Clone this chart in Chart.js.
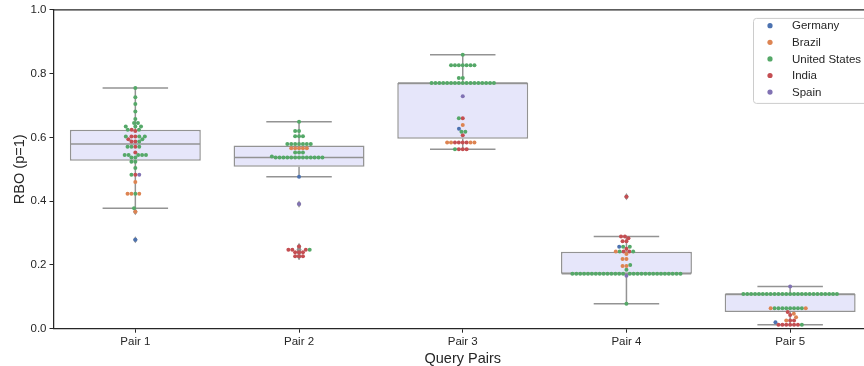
<!DOCTYPE html>
<html>
<head>
<meta charset="utf-8">
<script src="https://cdn.jsdelivr.net/npm/chart.js@4/dist/chart.umd.min.js"></script>
<style>
  html, body { margin: 0; padding: 0; background: #ffffff; overflow: hidden; }
  #wrap { width: 874px; height: 366px; }
</style>
</head>
<body>
<div id="wrap"><canvas id="c" width="874" height="366"></canvas></div>
<script>
// Query pairs on the x axis
const pairLabels = ['Pair 1', 'Pair 2', 'Pair 3', 'Pair 4', 'Pair 5'];

// Countries (legend order) and their colours
const countries = ['Germany', 'Brazil', 'United States', 'India', 'Spain'];
const countryColors = ['#4c72b0', '#dd8452', '#55a868', '#c44e52', '#8172b3'];

// RBO (p=1) scores, one list per query pair, for each country
const germany = [[0.279], [0.477], [0.627], [0.257], [0.020]];
const spain = [[0.483], [0.391], [0.729], [0.166], [0.132]];
const brazil = [
  [0.460, 0.423, 0.423, 0.423, 0.367],
  [0.566, 0.566, 0.566, 0.566, 0.566],
  [0.639, 0.584, 0.584, 0.584, 0.584],
  [0.242, 0.234, 0.219, 0.219, 0.197, 0.197],
  [0.064, 0.064, 0.047, 0.036, 0.026]
];
const india = [
  [0.624, 0.620, 0.603, 0.603, 0.594, 0.587, 0.587, 0.571, 0.553, 0.483],
  [0.258, 0.248, 0.248, 0.248, 0.240, 0.240, 0.240, 0.227, 0.227, 0.227],
  [0.660, 0.607, 0.584, 0.584, 0.584, 0.584, 0.563, 0.563, 0.563],
  [0.414, 0.289, 0.289, 0.284, 0.274, 0.274, 0.251, 0.242, 0.242],
  [0.052, 0.043, 0.026, 0.026, 0.0125, 0.0125, 0.0125, 0.0125, 0.0125, 0.0125]
];
const unitedStates = [
  [0.755, 0.726, 0.705, 0.681, 0.658, 0.645, 0.645, 0.634, 0.634, 0.634,
   0.624, 0.624, 0.603, 0.603, 0.603, 0.594, 0.587, 0.571, 0.571, 0.571,
   0.545, 0.545, 0.545, 0.545, 0.545, 0.537, 0.537, 0.524, 0.524, 0.504,
   0.483, 0.423, 0.378],
  [0.649, 0.620, 0.620, 0.604, 0.604, 0.604, 0.579, 0.579, 0.579, 0.579,
   0.579, 0.579, 0.579, 0.553, 0.553, 0.553, 0.540, 0.537, 0.537, 0.537,
   0.537, 0.537, 0.537, 0.537, 0.537, 0.537, 0.537, 0.537, 0.537, 0.537,
   0.248],
  [0.859, 0.826, 0.826, 0.826, 0.826, 0.826, 0.826, 0.826, 0.786, 0.786,
   0.771, 0.771, 0.771, 0.771, 0.771, 0.771, 0.771, 0.771, 0.771, 0.771,
   0.771, 0.771, 0.771, 0.771, 0.771, 0.771, 0.771, 0.660, 0.618, 0.618,
   0.563],
  [0.257, 0.257, 0.242, 0.242, 0.200, 0.185, 0.172, 0.172, 0.172, 0.172,
   0.172, 0.172, 0.172, 0.172, 0.172, 0.172, 0.172, 0.172, 0.172, 0.172,
   0.172, 0.172, 0.172, 0.172, 0.172, 0.172, 0.172, 0.172, 0.172, 0.172,
   0.172, 0.172, 0.172, 0.172, 0.078],
  [0.109, 0.109, 0.109, 0.109, 0.109, 0.109, 0.109, 0.109, 0.109, 0.109,
   0.109, 0.109, 0.109, 0.109, 0.109, 0.109, 0.109, 0.109, 0.109, 0.109,
   0.109, 0.109, 0.109, 0.109, 0.109, 0.064, 0.064, 0.064, 0.064, 0.064,
   0.064, 0.064, 0.064, 0.0125]
];
const seriesByCountry = [germany, brazil, unitedStates, india, spain];

// Box statistics per pair
const boxQ1 = [0.527, 0.508, 0.596, 0.172, 0.052];
const boxMedian = [0.579, 0.537, 0.771, 0.172, 0.109];
const boxQ3 = [0.624, 0.575, 0.771, 0.241, 0.109];
const whiskerLow = [0.378, 0.477, 0.563, 0.078, 0.0125];
const whiskerHigh = [0.755, 0.649, 0.859, 0.289, 0.132];

// Y axis ticks
const yTicks = [0.0, 0.2, 0.4, 0.6, 0.8, 1.0];

const FONT = '"Liberation Sans", Arial, Helvetica, sans-serif';
const INK = '#262626';
const BOX_FILL = '#e6e6fa';
const BOX_LINE = '#939393';
const BOX_WIDTH = 0.8;          // in category units
const POINT_R = 2.0;            // drawn radius, px
const SWARM_R = 1.86;           // collision radius used for the swarm layout, px

Chart.defaults.font.family = FONT;
Chart.defaults.color = INK;

// Median, whiskers, caps and fliers on top of each box
const boxDetails = {
  id: 'boxDetails',
  afterDatasetDraw(chart, args) {
    if (args.index !== 0) return;
    const { ctx } = chart;
    const xs = chart.scales.xs, y = chart.scales.y;
    ctx.save();
    ctx.strokeStyle = BOX_LINE;
    ctx.fillStyle = BOX_LINE;
    ctx.lineWidth = 1.5;
    ctx.lineCap = 'butt';
    pairLabels.forEach((_, i) => {
      const cx = xs.getPixelForValue(i);
      const half = xs.getPixelForValue(i + BOX_WIDTH / 2) - cx;
      const cap = half / 2;
      const seg = (x1, y1, x2, y2) => { ctx.beginPath(); ctx.moveTo(x1, y1); ctx.lineTo(x2, y2); ctx.stroke(); };
      // whiskers
      seg(cx, y.getPixelForValue(boxQ3[i]), cx, y.getPixelForValue(whiskerHigh[i]));
      seg(cx, y.getPixelForValue(boxQ1[i]), cx, y.getPixelForValue(whiskerLow[i]));
      // caps
      seg(cx - cap, y.getPixelForValue(whiskerHigh[i]), cx + cap, y.getPixelForValue(whiskerHigh[i]));
      seg(cx - cap, y.getPixelForValue(whiskerLow[i]), cx + cap, y.getPixelForValue(whiskerLow[i]));
      // median
      seg(cx - half + 0.75, y.getPixelForValue(boxMedian[i]), cx + half - 0.75, y.getPixelForValue(boxMedian[i]));
      // fliers: thin diamonds for values beyond the whiskers
      seriesByCountry.forEach(series => series[i].forEach(v => {
        if (v < whiskerLow[i] - 1e-9 || v > whiskerHigh[i] + 1e-9) {
          const py = y.getPixelForValue(v);
          ctx.beginPath();
          ctx.moveTo(cx, py - 3.6);
          ctx.lineTo(cx + 2.3, py);
          ctx.lineTo(cx, py + 3.6);
          ctx.lineTo(cx - 2.3, py);
          ctx.closePath();
          ctx.fill();
        }
      }));
    });
    ctx.restore();
  }
};

// Top spine of the axes frame
const topSpine = {
  id: 'topSpine',
  afterDraw(chart) {
    const { ctx, chartArea: a } = chart;
    ctx.save();
    ctx.strokeStyle = INK;
    ctx.lineWidth = 1.25;
    ctx.beginPath();
    ctx.moveTo(a.left - 0.6, a.top);
    ctx.lineTo(a.right, a.top);
    ctx.stroke();
    ctx.restore();
  }
};

// Legend box in the upper right corner of the axes
const countryLegend = {
  id: 'countryLegend',
  afterDraw(chart) {
    const { ctx, chartArea: a } = chart;
    const right = a.right - 5, width = 114, left = right - width;
    const top = a.top + 8, height = 85;
    ctx.save();
    ctx.beginPath();
    ctx.roundRect(left + 0.5, top + 0.5, width, height, 3);
    ctx.fillStyle = 'rgba(255,255,255,0.8)';
    ctx.fill();
    ctx.strokeStyle = '#cccccc';
    ctx.lineWidth = 1;
    ctx.stroke();
    ctx.font = '11.5px ' + FONT;
    ctx.textBaseline = 'middle';
    ctx.textAlign = 'left';
    countries.forEach((name, i) => {
      const yy = top + 7.8 + i * 16.6;
      ctx.beginPath();
      ctx.arc(left + 17, yy, 2.6, 0, Math.PI * 2);
      ctx.fillStyle = countryColors[i];
      ctx.fill();
      ctx.fillStyle = INK;
      ctx.fillText(name, left + 39, yy + 0.5);
    });
    ctx.restore();
  }
};

const ctx = document.getElementById('c').getContext('2d');
const chart = new Chart(ctx, {
  type: 'scatter',
  data: {
    labels: pairLabels,
    datasets: [
      {
        type: 'bar',
        label: 'box',
        data: boxQ1.map((q, i) => [q, boxQ3[i]]),
        xAxisID: 'x',
        yAxisID: 'y',
        backgroundColor: BOX_FILL,
        borderColor: BOX_LINE,
        borderWidth: 1.5,
        borderSkipped: false,
        grouped: false,
        categoryPercentage: 1.0,
        barPercentage: BOX_WIDTH,
        order: 2
      },
      ...countries.map((name, i) => ({
        type: 'scatter',
        label: name,
        data: [],
        xAxisID: 'xs',
        yAxisID: 'y',
        backgroundColor: countryColors[i],
        borderWidth: 0,
        pointRadius: POINT_R,
        pointHoverRadius: POINT_R,
        order: 0
      }))
    ]
  },
  options: {
    responsive: false,
    animation: false,
    devicePixelRatio: 1,
    layout: { padding: { left: 13, right: 1, top: 3, bottom: 0 } },
    scales: {
      x: {
        type: 'category',
        labels: pairLabels,
        offset: true,
        grid: { display: true, drawOnChartArea: false, offset: false, tickLength: 4, color: INK, lineWidth: 1 },
        border: { display: true, color: INK, width: 1.25 },
        ticks: { color: INK, font: { size: 11.5 }, padding: 2, maxRotation: 0 },
        title: { display: true, text: 'Query Pairs', color: INK, font: { size: 14.5, lineHeight: 1.0 }, padding: { top: 1, bottom: 0 } }
      },
      xs: { type: 'linear', min: -0.5, max: 4.5, display: false },
      y: {
        type: 'linear',
        min: 0,
        max: 1,
        afterBuildTicks(scale) { scale.ticks = yTicks.map(v => ({ value: v })); },
        grid: { display: true, drawOnChartArea: false, tickLength: 4, color: INK, lineWidth: 1 },
        border: { display: true, color: INK, width: 1.25 },
        ticks: { color: INK, font: { size: 11.5 }, padding: 3, callback: v => Number(v).toFixed(1) },
        title: { display: true, text: 'RBO (p=1)', color: INK, font: { size: 14.5, lineHeight: 1.0 }, padding: { top: 0, bottom: 0 } }
      }
    },
    plugins: {
      legend: { display: false },
      tooltip: { enabled: false }
    }
  },
  plugins: [boxDetails, topSpine, countryLegend]
});

// Beeswarm layout: points placed in value order, each at the closest
// non-overlapping horizontal offset from its category centre.
function layoutSwarm() {
  const xs = chart.scales.xs, y = chart.scales.y;
  const placementOrder = [3, 2, 1, 0, 4];  // India, United States, Brazil, Germany, Spain
  const perCountry = countries.map(() => []);
  const minSq = (2 * SWARM_R) * (2 * SWARM_R);
  pairLabels.forEach((_, p) => {
    const pts = [];
    placementOrder.forEach(c => seriesByCountry[c][p].forEach(v => pts.push({ v, c })));
    pts.sort((a, b) => a.v - b.v);
    const mid = xs.getPixelForValue(p);
    const placed = [];
    pts.forEach(pt => {
      const py = y.getPixelForValue(pt.v);
      const nb = placed.filter(q => Math.abs(q.py - py) < 2 * SWARM_R);
      const cands = [mid];
      let leftFirst = true;
      nb.forEach(q => {
        const dy = py - q.py;
        const dx = Math.sqrt(Math.max(minSq - dy * dy, 0)) * 1.05;
        if (leftFirst) cands.push(q.px - dx, q.px + dx); else cands.push(q.px + dx, q.px - dx);
        leftFirst = !leftFirst;
      });
      cands.sort((a, b) => Math.abs(a - mid) - Math.abs(b - mid));
      let px = cands.find(cx => nb.every(q => (cx - q.px) ** 2 + (py - q.py) ** 2 >= minSq - 1e-6));
      if (px === undefined) px = mid;
      placed.push({ px, py });
      perCountry[pt.c].push({ x: xs.getValueForPixel(px), y: pt.v });
    });
  });
  perCountry.forEach((d, i) => { chart.data.datasets[i + 1].data = d; });
  chart.update('none');
}
layoutSwarm();
</script>
</body>
</html>
